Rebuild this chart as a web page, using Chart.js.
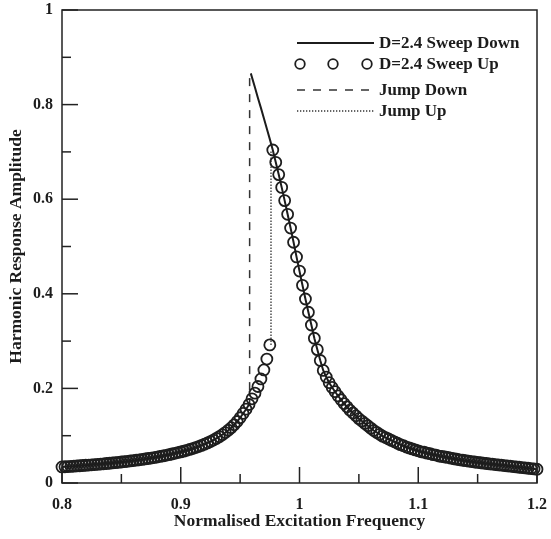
<!DOCTYPE html>
<html>
<head>
<meta charset="utf-8">
<script src="https://cdn.jsdelivr.net/npm/chart.js@4.4.0/dist/chart.umd.min.js"></script>
<style>
  html, body { margin: 0; padding: 0; background: #fff; }
</style>
</head>
<body>
<canvas id="myChart" width="551" height="539"></canvas>
<script>
// lower branch (sweep up, before the jump)
const lowerFreq = [
  0.8, 0.8025, 0.805, 0.8075, 0.81, 0.8125, 0.815, 0.8175, 0.82, 0.8225,
  0.825, 0.8275, 0.83, 0.8325, 0.835, 0.8375, 0.84, 0.8425, 0.845, 0.8475,
  0.85, 0.8525, 0.855, 0.8575, 0.86, 0.8625, 0.865, 0.8675, 0.87, 0.8725,
  0.875, 0.8775, 0.88, 0.8825, 0.885, 0.8875, 0.89, 0.8925, 0.895, 0.8975,
  0.9, 0.9025, 0.905, 0.9075, 0.91, 0.9125, 0.915, 0.9175, 0.92, 0.9225,
  0.925, 0.9275, 0.93, 0.9325, 0.935, 0.9375, 0.94, 0.9425, 0.945, 0.9475,
  0.95, 0.9525, 0.955, 0.9575, 0.96, 0.9625, 0.965, 0.9675, 0.97, 0.9725,
  0.975
];
const lowerAmp = [
  0.034, 0.0344, 0.0348, 0.0352, 0.0356, 0.0361, 0.0365, 0.037, 0.0375, 0.038,
  0.0385, 0.039, 0.0395, 0.0401, 0.0406, 0.0412, 0.0418, 0.0424, 0.0431, 0.0437,
  0.0444, 0.0451, 0.0458, 0.0466, 0.0474, 0.0482, 0.049, 0.0499, 0.0508, 0.0518,
  0.0528, 0.0538, 0.0549, 0.0561, 0.0573, 0.0586, 0.0599, 0.0613, 0.0628, 0.0644,
  0.0658, 0.0674, 0.0691, 0.0709, 0.0728, 0.0749, 0.0771, 0.0795, 0.082, 0.0847,
  0.0876, 0.0908, 0.0943, 0.098, 0.1021, 0.1066, 0.1115, 0.117, 0.123, 0.13,
  0.138, 0.147, 0.156, 0.166, 0.178, 0.19, 0.204, 0.22, 0.239, 0.262,
  0.292
];

// upper branch (after the jump up, shared by both sweeps)
const upperFreq = [
  0.9775, 0.98, 0.9825, 0.985, 0.9875, 0.99, 0.9925, 0.995, 0.9975, 1.0,
  1.0025, 1.005, 1.0075, 1.01, 1.0125, 1.015, 1.0175, 1.02, 1.0225, 1.025,
  1.0275, 1.03, 1.0325, 1.035, 1.0375, 1.04, 1.0425, 1.045, 1.0475, 1.05,
  1.0525, 1.055, 1.0575, 1.06, 1.0625, 1.065, 1.0675, 1.07, 1.0725, 1.075,
  1.0775, 1.08, 1.0825, 1.085, 1.0875, 1.09, 1.0925, 1.095, 1.0975, 1.1,
  1.1025, 1.105, 1.1075, 1.11, 1.1125, 1.115, 1.1175, 1.12, 1.1225, 1.125,
  1.1275, 1.13, 1.1325, 1.135, 1.1375, 1.14, 1.1425, 1.145, 1.1475, 1.15,
  1.1525, 1.155, 1.1575, 1.16, 1.1625, 1.165, 1.1675, 1.17, 1.1725, 1.175,
  1.1775, 1.18, 1.1825, 1.185, 1.1875, 1.19, 1.1925, 1.195, 1.1975, 1.2
];
const upperAmp = [
  0.704, 0.678, 0.652, 0.625, 0.597, 0.568, 0.539, 0.509, 0.478, 0.448,
  0.418, 0.389, 0.361, 0.334, 0.306, 0.282, 0.259, 0.238, 0.224, 0.212,
  0.202, 0.193, 0.184, 0.176, 0.168, 0.161, 0.154, 0.148, 0.142, 0.136,
  0.131, 0.126, 0.121, 0.116, 0.111, 0.107, 0.103, 0.099, 0.096, 0.093,
  0.09, 0.087, 0.084, 0.081, 0.079, 0.076, 0.074, 0.072, 0.07, 0.068,
  0.066, 0.065, 0.063, 0.062, 0.06, 0.059, 0.057, 0.056, 0.055, 0.054,
  0.0525, 0.0513, 0.0502, 0.0491, 0.0481, 0.0471, 0.0462, 0.0453, 0.0444, 0.0436,
  0.0428, 0.042, 0.0412, 0.0404, 0.0397, 0.039, 0.0383, 0.0376, 0.0369, 0.0362,
  0.0355, 0.0347, 0.034, 0.0333, 0.0326, 0.0319, 0.0312, 0.0305, 0.0298, 0.0291
];

// top of the sweep-down curve, above the circles
const peakFreq = [0.959, 0.9625, 0.965, 0.9675, 0.97, 0.9725, 0.975];
const peakAmp = [0.866, 0.836, 0.814, 0.793, 0.771, 0.749, 0.727];

const jumpDownFreq = [0.958, 0.958];
const jumpDownAmp = [0.856, 0.167];
const jumpUpFreq = [0.976, 0.976];
const jumpUpAmp = [0.292, 0.704];

const xMinor = [0.85, 0.95, 1.05, 1.15];
const yMinor = [0.1, 0.3, 0.5, 0.7, 0.9];

const ink = '#1c1c1c';
const family = "'Liberation Serif', 'Times New Roman', serif";
const tickFont = { family: family, size: 16, weight: 'bold' };
const titleFont = { family: family, size: 17.5, weight: 'bold' };
const legendSize = 17;

const pts = (xs, ys) => xs.map((x, i) => ({ x: x, y: ys[i] }));

const sweepDown = pts(lowerFreq.slice(0, 64), lowerAmp.slice(0, 64))
  .concat([{ x: 0.958, y: null }])
  .concat(pts(peakFreq, peakAmp))
  .concat(pts(upperFreq, upperAmp));
const sweepUp = pts(lowerFreq, lowerAmp).concat(pts(upperFreq, upperAmp));

// inward ticks + closed frame
const frameTicks = {
  id: 'frameTicks',
  afterDraw(chart) {
    const { ctx, chartArea: a, scales } = chart;
    ctx.save();
    ctx.strokeStyle = '#222';
    ctx.lineWidth = 1.5;
    ctx.strokeRect(a.left, a.top, a.right - a.left, a.bottom - a.top);
    const seg = (x1, y1, x2, y2) => {
      ctx.beginPath(); ctx.moveTo(x1, y1); ctx.lineTo(x2, y2); ctx.stroke();
    };
    scales.x.ticks.forEach(t => {
      const px = scales.x.getPixelForValue(t.value);
      seg(px, a.bottom, px, a.bottom - 16);
    });
    xMinor.forEach(v => {
      const px = scales.x.getPixelForValue(v);
      seg(px, a.bottom, px, a.bottom - 9);
    });
    scales.y.ticks.forEach(t => {
      const py = scales.y.getPixelForValue(t.value);
      seg(a.left, py, a.left + 16, py);
    });
    yMinor.forEach(v => {
      const py = scales.y.getPixelForValue(v);
      seg(a.left, py, a.left + 9, py);
    });
    ctx.restore();
  }
};

// legend box in the upper right of the plot
const legendRows = [43, 64, 90, 111];
const plotLegend = {
  id: 'plotLegend',
  afterDraw(chart) {
    const ctx = chart.ctx;
    const x0 = 297, x1 = 374, tx = 379;
    ctx.save();
    ctx.font = `bold ${legendSize}px ${family}`;
    ctx.textBaseline = 'middle';
    ctx.fillStyle = ink;
    chart.data.datasets.forEach((ds, i) => {
      const y = legendRows[i];
      ctx.strokeStyle = ds.borderColor;
      if (ds.showLine === false) {
        ctx.lineWidth = ds.pointBorderWidth;
        [300, 333, 367].forEach(cx => {
          ctx.beginPath(); ctx.arc(cx, y, 4.8, 0, Math.PI * 2); ctx.stroke();
        });
      } else {
        ctx.lineWidth = ds.borderWidth;
        ctx.setLineDash(ds.borderDash || []);
        ctx.beginPath(); ctx.moveTo(x0, y); ctx.lineTo(x1, y); ctx.stroke();
        ctx.setLineDash([]);
      }
      ctx.fillText(ds.label, tx, y + 1);
    });
    ctx.restore();
  }
};

new Chart(document.getElementById('myChart'), {
  type: 'scatter',
  data: {
    datasets: [
      {
        label: 'D=2.4 Sweep Down',
        data: sweepDown,
        showLine: true,
        spanGaps: false,
        borderColor: ink,
        borderWidth: 2,
        pointRadius: 0,
        tension: 0,
      },
      {
        label: 'D=2.4 Sweep Up',
        data: sweepUp,
        showLine: false,
        borderColor: '#1e1e1e',
        pointBorderColor: '#1e1e1e',
        pointBackgroundColor: 'rgba(0,0,0,0)',
        pointRadius: 5.5,
        pointBorderWidth: 1.8,
        clip: false,
      },
      {
        label: 'Jump Down',
        data: pts(jumpDownFreq, jumpDownAmp),
        showLine: true,
        borderColor: '#333',
        borderWidth: 1.5,
        borderDash: [8, 8],
        pointRadius: 0,
      },
      {
        label: 'Jump Up',
        data: pts(jumpUpFreq, jumpUpAmp),
        showLine: true,
        borderColor: '#333',
        borderWidth: 1.3,
        borderDash: [1.3, 1.7],
        pointRadius: 0,
      },
    ],
  },
  options: {
    responsive: false,
    animation: false,
    layout: { padding: { left: 6, right: 14, top: 10, bottom: 7 } },
    plugins: { legend: { display: false }, tooltip: { enabled: false } },
    scales: {
      x: {
        min: 0.8,
        max: 1.2,
        grid: { display: false, drawTicks: false },
        border: { display: false },
        ticks: {
          stepSize: 0.1,
          padding: 12,
          color: ink,
          font: tickFont,
          maxRotation: 0,
          callback: v => String(+v.toFixed(2)),
        },
        title: { display: true, text: 'Normalised Excitation Frequency', color: ink, font: titleFont, padding: 0 },
        afterFit: s => { s.height = 49; s.paddingLeft = 0; s.paddingRight = 0; },
      },
      y: {
        min: 0,
        max: 1,
        grid: { display: false, drawTicks: false },
        border: { display: false },
        ticks: {
          stepSize: 0.2,
          padding: 9,
          color: ink,
          font: tickFont,
          callback: v => String(+v.toFixed(2)),
        },
        title: { display: true, text: 'Harmonic Response Amplitude', color: ink, font: titleFont, padding: 0 },
        afterFit: s => { s.width = 56; s.paddingTop = 0; s.paddingBottom = 0; },
      },
    },
  },
  plugins: [frameTicks, plotLegend],
});
</script>
</body>
</html>
